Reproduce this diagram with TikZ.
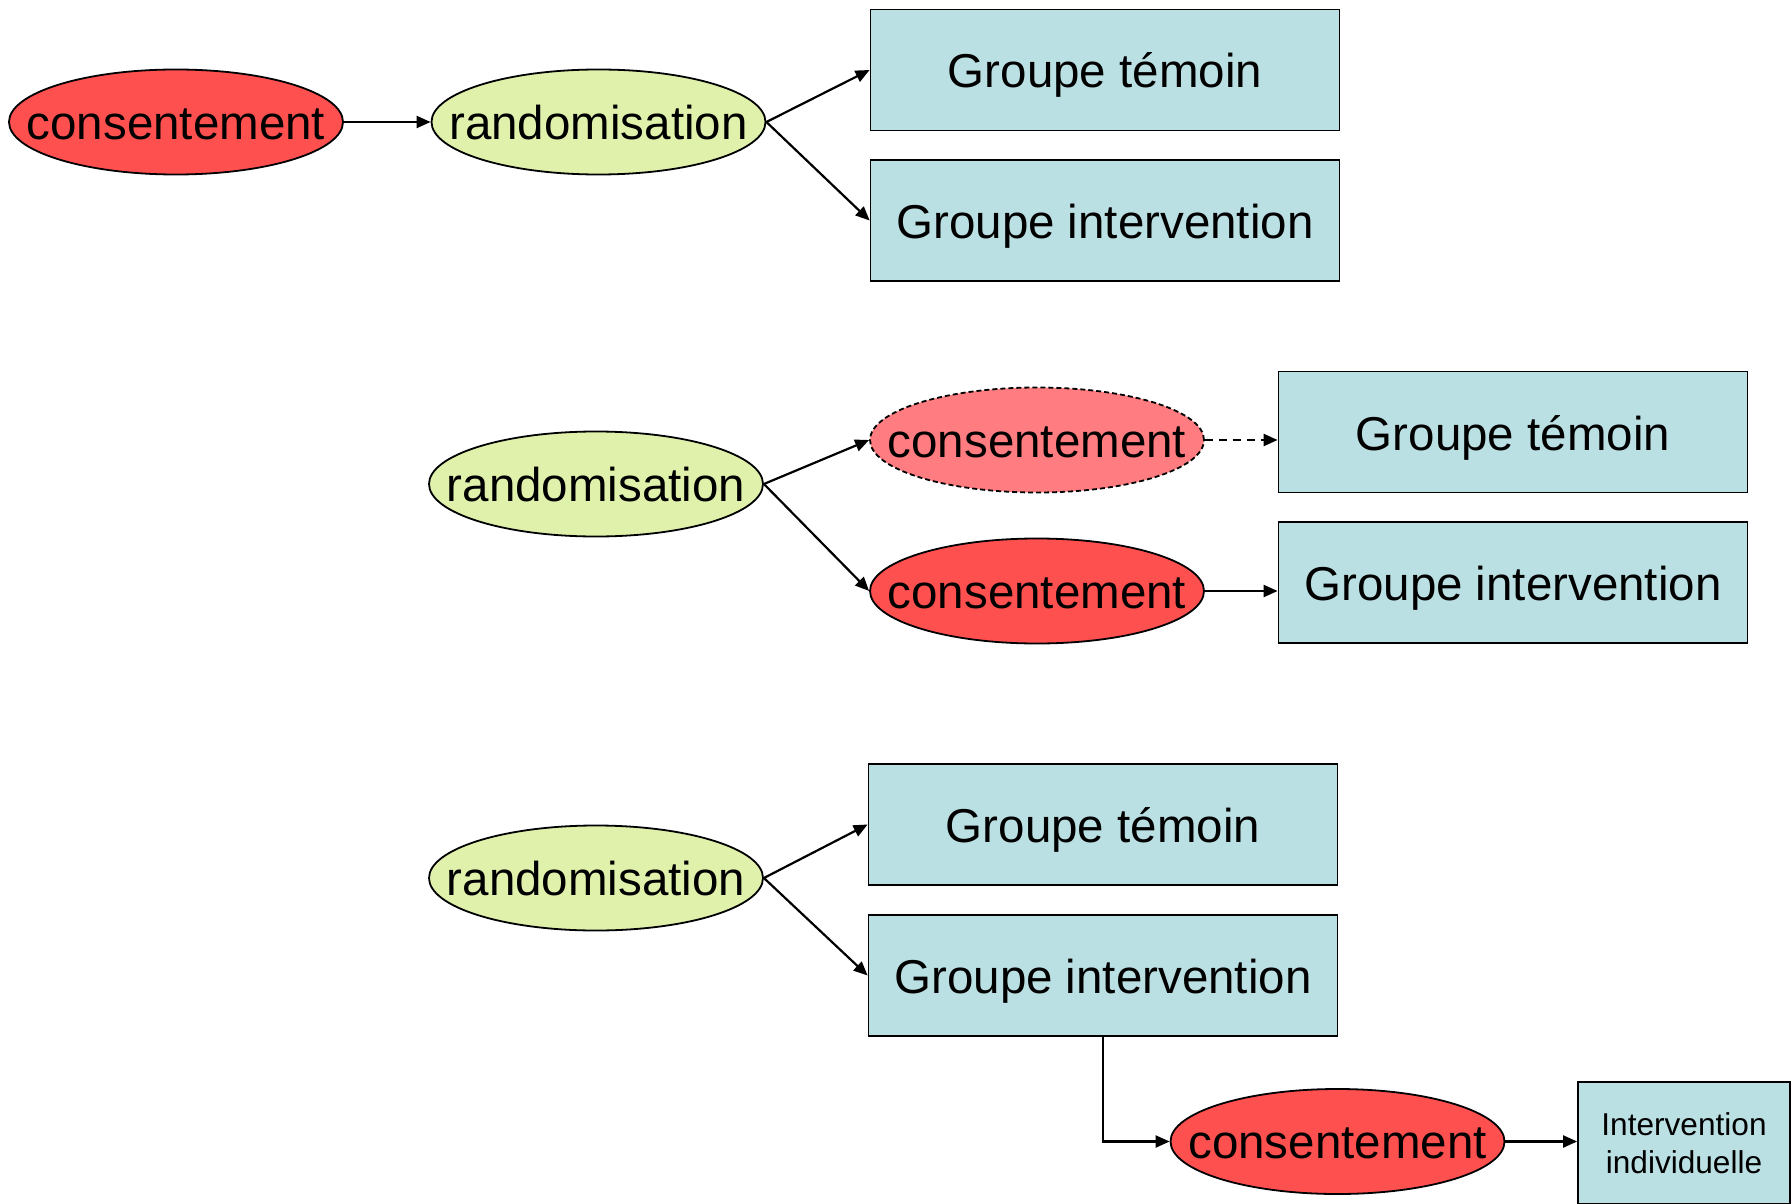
\documentclass[tikz,border=0pt]{standalone}
\usepackage{fontspec}
\setmainfont{Liberation Sans}
\usetikzlibrary{arrows.meta,shapes.geometric}
\definecolor{redc}{HTML}{FF5050}
\definecolor{pinkc}{HTML}{FF7C80}
\definecolor{greenc}{HTML}{E0F1AC}
\definecolor{bluec}{HTML}{BBE0E3}
\tikzset{
  bigtext/.style={font=\fontsize{23.75}{28}\selectfont},
  elltext/.style={bigtext, text height=17.4pt, text depth=0pt},
  ell/.style={ellipse, draw=black, line width=0.9pt, inner sep=0pt,
     minimum width=167pt, minimum height=52.5pt},
  redell/.style={ell, fill=redc},
  pinkell/.style={ell, fill=pinkc, dash pattern=on 2.5pt off 1.5pt},
  greenell/.style={ell, fill=greenc},
  gbox/.style={rectangle, draw=black, line width=0.9pt, fill=bluec,
     minimum width=234.5pt, minimum height=60.5pt, inner sep=0pt, bigtext,
     text height=23pt, text depth=5pt},
  conn/.style={line width=1.1pt, -{Triangle[length=7pt,width=6pt]}},
  dconn/.style={conn, dash pattern=on 4pt off 3pt},
}
\begin{document}
\begin{tikzpicture}[x=0.5pt,y=-0.5pt]
\useasboundingbox (0,0) rectangle (1791,1203);
% Row 1
\node[redell, label={[elltext]center:consentement}] (c1) at (176,122) {};
\node[greenell, label={[elltext]center:randomisation}] (r1) at (598.5,122) {};
\node[gbox] (gt1) at (1105,70) {Groupe témoin};
\node[gbox] (gi1) at (1105,220.5) {Groupe intervention};
\draw[conn] (c1.east) -- (r1.west);
\draw[conn] (r1.east) -- (gt1.west);
\draw[conn] (r1.east) -- (gi1.west);
% Row 2
\node[greenell, label={[elltext]center:randomisation}] (r2) at (596,484) {};
\node[pinkell, label={[elltext]center:consentement}] (c2a) at (1037,440) {};
\node[redell, label={[elltext]center:consentement}] (c2b) at (1037,591) {};
\node[gbox] (gt2) at (1513,432) {Groupe témoin};
\node[gbox] (gi2) at (1513,582.5) {Groupe intervention};
\draw[conn] (r2.east) -- (c2a.west);
\draw[conn] (r2.east) -- (c2b.west);
\draw[dconn] (c2a.east) -- (c2a.east -| gt2.west);
\draw[conn] (c2b.east) -- (c2b.east -| gi2.west);
% Row 3
\node[greenell, label={[elltext]center:randomisation}] (r3) at (596,878) {};
\node[gbox] (gt3) at (1103,824.5) {Groupe témoin};
\node[gbox] (gi3) at (1103,975.5) {Groupe intervention};
\node[redell, label={[elltext]center:consentement}] (c3) at (1337.5,1141.5) {};
\node[rectangle, draw=black, line width=0.9pt, fill=bluec, minimum width=106pt,
  minimum height=61pt, inner sep=0pt, align=center,
  font=\fontsize{15.8}{18.8}\selectfont] (ind) at (1684,1143) {Intervention\\individuelle};
\draw[conn] (r3.east) -- (gt3.west);
\draw[conn] (r3.east) -- (gi3.west);
\draw[conn] (gi3.south) |- (c3.west);
\draw[conn] (c3.east) -- (c3.east -| ind.west);
\end{tikzpicture}
\end{document}
